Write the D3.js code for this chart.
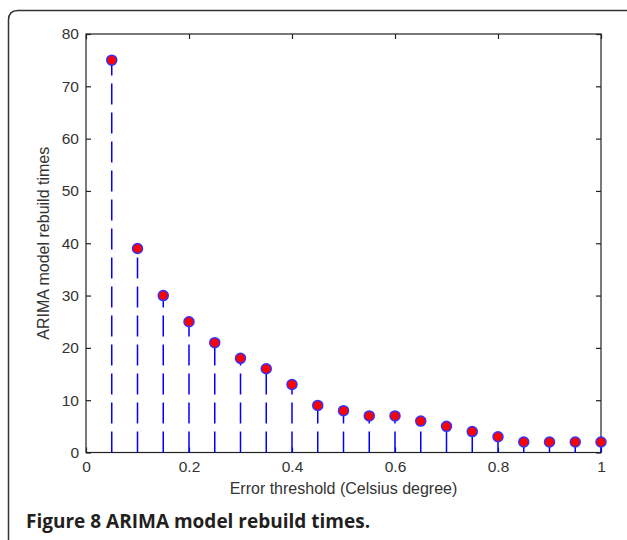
<!DOCTYPE html>
<html>
<head>
<meta charset="utf-8">
<script src="https://cdn.jsdelivr.net/npm/d3@7/dist/d3.min.js"></script>
<style>
  body { margin: 0; background: #fff; }
</style>
</head>
<body>
<div id="main"></div>
<script>
// error threshold (Celsius degree) and number of ARIMA rebuilds
var thresholds = [0.05, 0.1, 0.15, 0.2, 0.25, 0.3, 0.35, 0.4, 0.45, 0.5,
                  0.55, 0.6, 0.65, 0.7, 0.75, 0.8, 0.85, 0.9, 0.95, 1.0];
var rebuilds = [75, 39, 30, 25, 21, 18, 16, 13, 9, 8,
                7, 7, 6, 5, 4, 3, 2, 2, 2, 2];
var xTicks = [0, 0.2, 0.4, 0.6, 0.8, 1];
var yTicks = [0, 10, 20, 30, 40, 50, 60, 70, 80];

var data = thresholds.map(function(t, i) {
  return { x: t, y: rebuilds[i] };
});

var width = 627, height = 540;
var plotL = 86, plotR = 601, plotT = 34, plotB = 452.5;

var svg = d3.select('#main')
  .append('svg')
  .attr('width', width)
  .attr('height', height);

// figure frame with rounded top-left corner
svg.append('path')
  .attr('d', 'M8.5,545 L8.5,20 Q8.5,10.5 18,10.5 L640,10.5')
  .attr('fill', 'none')
  .attr('stroke', '#333')
  .attr('stroke-width', 1.5);

var x = d3.scaleLinear().domain([0, 1]).range([plotL, plotR]);
var y = d3.scaleLinear().domain([0, 80]).range([plotB, plotT]);

var axisFont = 'Liberation Sans, Arial, sans-serif';

// box
svg.append('rect')
  .attr('x', plotL).attr('y', plotT)
  .attr('width', plotR - plotL).attr('height', plotB - plotT)
  .attr('fill', 'none')
  .attr('stroke', '#222')
  .attr('stroke-width', 1.2);

function styleAxis(g) {
  g.select('.domain').remove();
  g.selectAll('.tick line').attr('stroke', '#222').attr('stroke-width', 1.2);
  g.selectAll('.tick text')
    .attr('fill', '#333')
    .style('font-family', axisFont)
    .style('font-size', '15.5px');
}

svg.append('g')
  .attr('transform', 'translate(0,' + plotB + ')')
  .call(d3.axisBottom(x).tickValues(xTicks).tickFormat(d3.format('~g'))
    .tickSizeInner(-5).tickSizeOuter(0).tickPadding(8))
  .call(styleAxis);

svg.append('g')
  .attr('transform', 'translate(0,' + plotT + ')')
  .call(d3.axisTop(x).tickValues(xTicks).tickFormat('')
    .tickSizeInner(-5).tickSizeOuter(0))
  .call(styleAxis);

svg.append('g')
  .attr('transform', 'translate(' + plotL + ',0)')
  .call(d3.axisLeft(y).tickValues(yTicks)
    .tickSizeInner(-5).tickSizeOuter(0).tickPadding(7))
  .call(styleAxis);

svg.append('g')
  .attr('transform', 'translate(' + plotR + ',0)')
  .call(d3.axisRight(y).tickValues(yTicks).tickFormat('')
    .tickSizeInner(-5).tickSizeOuter(0))
  .call(styleAxis);

// stems
svg.selectAll('line.stem')
  .data(data)
  .enter()
  .append('line')
  .attr('class', 'stem')
  .attr('x1', function(d) { return x(d.x); })
  .attr('x2', function(d) { return x(d.x); })
  .attr('y1', y(0))
  .attr('y2', function(d) { return y(d.y); })
  .attr('stroke', '#0000ff')
  .attr('stroke-width', 1.5)
  .attr('stroke-dasharray', '21,8');

// markers
svg.selectAll('circle')
  .data(data)
  .enter()
  .append('circle')
  .attr('cx', function(d) { return x(d.x); })
  .attr('cy', function(d) { return y(d.y); })
  .attr('r', 5)
  .attr('fill', '#ff0000')
  .attr('stroke', '#3333ff')
  .attr('stroke-width', 1.5);

// axis labels
svg.append('text')
  .attr('x', (plotL + plotR) / 2)
  .attr('y', 494)
  .attr('text-anchor', 'middle')
  .attr('fill', '#333')
  .style('font-family', axisFont)
  .style('font-size', '16px')
  .text('Error threshold (Celsius degree)');

svg.append('text')
  .attr('transform', 'translate(49,' + (plotT + plotB) / 2 + ') rotate(-90)')
  .attr('text-anchor', 'middle')
  .attr('fill', '#333')
  .style('font-family', axisFont)
  .style('font-size', '16px')
  .text('ARIMA model rebuild times');

// caption
svg.append('text')
  .attr('x', 26)
  .attr('y', 528)
  .attr('fill', '#231f20')
  .style('font-family', 'Open Sans, sans-serif')
  .style('font-size', '19px')
  .style('font-weight', 'bold')
  .text('Figure 8 ARIMA model rebuild times.');
</script>
</body>
</html>
